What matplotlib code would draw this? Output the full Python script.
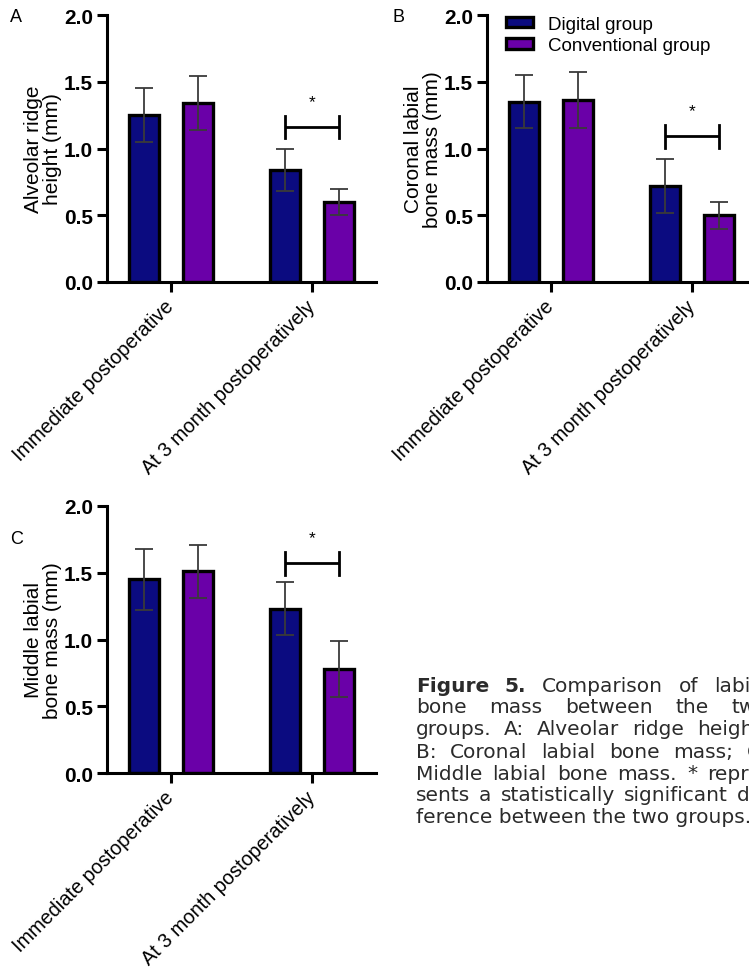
import numpy as np
import matplotlib
matplotlib.use('Agg')
import matplotlib.pyplot as plt
from matplotlib.patches import Patch

plt.rcParams['font.family'] = ['Liberation Sans', 'DejaVu Sans']

# data (mean and error bar half-length, mm)
categories = ['Immediate postoperative', 'At 3 month postoperatively']
groups = ['Digital group', 'Conventional group']

ridge_digital = [1.25, 0.84]
ridge_digital_err = [0.20, 0.16]
ridge_conv = [1.34, 0.60]
ridge_conv_err = [0.20, 0.10]

coronal_digital = [1.35, 0.72]
coronal_digital_err = [0.20, 0.20]
coronal_conv = [1.36, 0.50]
coronal_conv_err = [0.21, 0.10]

middle_digital = [1.45, 1.23]
middle_digital_err = [0.23, 0.20]
middle_conv = [1.51, 0.78]
middle_conv_err = [0.20, 0.21]

ylabels = ['Alveolar ridge\nheight (mm)', 'Coronal labial\nbone mass (mm)', 'Middle labial\nbone mass (mm)']
panel_letters = ['A', 'B', 'C']
sig_heights = [1.16, 1.09, 1.57]
yticks = [0.0, 0.5, 1.0, 1.5, 2.0]

caption_lines = [
    [('Figure', True), ('5.', True), ('Comparison', False), ('of', False), ('labial', False)],
    [('bone', False), ('mass', False), ('between', False), ('the', False), ('two', False)],
    [('groups.', False), ('A:', False), ('Alveolar', False), ('ridge', False), ('height;', False)],
    [('B:', False), ('Coronal', False), ('labial', False), ('bone', False), ('mass;', False), ('C:', False)],
    [('Middle', False), ('labial', False), ('bone', False), ('mass.', False), ('*', False), ('repre-', False)],
    [('sents', False), ('a', False), ('statistically', False), ('significant', False), ('dif-', False)],
]
caption_last = 'ference between the two groups.'

navy = '#0b0b80'
purple = '#6a00a8'

W, H = 749, 970
fig = plt.figure(figsize=(W / 100, H / 100), dpi=100)


def draw_panel(ax, dig, dig_err, conv, conv_err, ylabel, sig_y):
    x = np.arange(len(categories))
    off = 0.19
    bw = 0.21
    ax.bar(x - off, dig, bw, color=navy, edgecolor='black', linewidth=2.4, zorder=2)
    ax.bar(x + off, conv, bw, color=purple, edgecolor='black', linewidth=2.4, zorder=2)
    ax.errorbar(x - off, dig, yerr=dig_err, fmt='none', ecolor='#3a3a3a',
                elinewidth=1.3, capsize=6.5, capthick=1.3, zorder=3)
    ax.errorbar(x + off, conv, yerr=conv_err, fmt='none', ecolor='#3a3a3a',
                elinewidth=1.3, capsize=6.5, capthick=1.3, zorder=3)

    # significance bracket over the 3 month group
    x1, x2 = x[1] - off, x[1] + off
    h = 0.085
    ax.plot([x1, x2], [sig_y, sig_y], color='black', lw=2.0, solid_capstyle='butt')
    ax.plot([x1, x1], [sig_y - h, sig_y + h], color='black', lw=2.0)
    ax.plot([x2, x2], [sig_y - h, sig_y + h], color='black', lw=2.0)
    ax.text(x[1], sig_y + 0.19, '*', ha='center', va='center', fontsize=12.5)

    ax.set_xlim(-0.454, 1.454)
    ax.set_ylim(0, 2.0)
    ax.set_yticks(yticks)
    ax.set_yticklabels(['%.1f' % v for v in yticks], fontweight='bold', fontsize=15)
    ax.set_xticks(x)
    ax.set_xticklabels(categories, rotation=45, ha='right', va='center',
                       rotation_mode='anchor', fontsize=14.3)
    ax.spines['top'].set_visible(False)
    ax.spines['right'].set_visible(False)
    for s in ['left', 'bottom']:
        ax.spines[s].set_linewidth(2.2)
    ax.tick_params(width=2.2, length=7, pad=3)
    ax.tick_params(axis='x', pad=8)
    ax.set_ylabel(ylabel, fontsize=15, linespacing=1.0)
    ax.yaxis.set_label_coords(-0.167, 0.5)


axw = 269 / W
axh = 267 / H
axA = fig.add_axes([107 / W, 1 - 283 / H, axw, axh])
axB = fig.add_axes([487 / W, 1 - 283 / H, axw, axh])
axC = fig.add_axes([107 / W, 1 - 774 / H, axw, axh])

draw_panel(axA, ridge_digital, ridge_digital_err, ridge_conv, ridge_conv_err, ylabels[0], sig_heights[0])
draw_panel(axB, coronal_digital, coronal_digital_err, coronal_conv, coronal_conv_err, ylabels[1], sig_heights[1])
draw_panel(axC, middle_digital, middle_digital_err, middle_conv, middle_conv_err, ylabels[2], sig_heights[2])

handles = [Patch(facecolor=navy, edgecolor='black', linewidth=2.4),
           Patch(facecolor=purple, edgecolor='black', linewidth=2.4)]
axB.legend(handles, groups, loc='upper left', bbox_to_anchor=(0.07, 0.998), frameon=False,
           fontsize=13.5, handlelength=1.45, handleheight=0.5, handletextpad=0.8,
           labelspacing=0.25, borderaxespad=0, borderpad=0)

fig.text(10 / W, 1 - 18 / H, 'A', fontsize=13, va='center')
fig.text(393 / W, 1 - 18 / H, 'B', fontsize=13, va='center')
fig.text(10 / W, 1 - 540 / H, 'C', fontsize=13, va='center')

# justified caption
cap_color = '#2b2b2b'
cap_size = 14.5
cap_left = 416
cap_right = 768
cap_top = 686
cap_step = 22
fig.canvas.draw()
renderer = fig.canvas.get_renderer()
for i, line in enumerate(caption_lines):
    y = 1 - (cap_top + i * cap_step) / H
    texts = []
    total = 0
    for word, bold in line:
        t = fig.text(0, y, word, fontsize=cap_size, family='DejaVu Sans', color=cap_color,
                     fontweight='bold' if bold else 'normal', va='center', ha='left')
        wpx = t.get_window_extent(renderer).width
        texts.append((t, wpx))
        total += wpx
    gap = (cap_right - cap_left - total) / (len(line) - 1)
    xpos = cap_left
    for t, wpx in texts:
        t.set_x(xpos / W)
        xpos += wpx + gap
fig.text(cap_left / W, 1 - (cap_top + len(caption_lines) * cap_step) / H, caption_last,
         fontsize=cap_size, family='DejaVu Sans', color=cap_color, va='center', ha='left')

fig.savefig('out.png', dpi=100)
